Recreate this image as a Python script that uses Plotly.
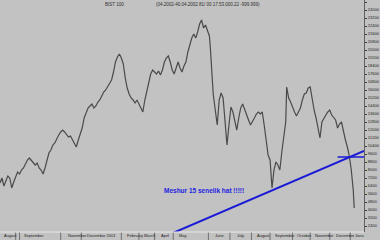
import plotly.graph_objects as go

# trading-day index and index level
days = [0,2,4,6,8,10,12,14,16,18,20,22,24,26,28,30,32,34,36,38,40,42,44,46,48,50,52,54,56,58,
        60,62,64,66,68,70,72,74,76,78,80,82,84,86,88,90,92,94,96,98,100,102,104,106,108,110,112,114,116,118,
        120,122,124,126,128,130,132,134,136,138,140,142,144,146,148,150,152,154,156,158,160,162,164,166,168,170,172,174,176,178,
        180,182,184,186,188,190,192,194,196,198,200,202,204,206,208,210,212,214,215,216,217,218,220,222,224,226,228,230,232,234,
        236,238,240,242,244,246,248,250,252,254,256,258,260,262,264,266,268,270,272,274,276,278,280,282,284,286,288,290,292,293,
        295,297,299,301,303,305,307,309,311,313,315,317,319,321,323,325,327,329,331,333,335,337,339,341,343,345,347,349,351,353,
        355,357,359,361,362]
level = [6700,7200,6400,7000,7400,7200,6200,6800,7400,7800,7600,8000,8200,8700,9000,9200,9000,8800,8500,8700,8200,8000,7600,8200,9000,9700,10000,10500,10700,11200,
         11500,11800,12000,11800,11600,11300,11400,11000,10700,10300,11000,11600,12200,13200,13800,14200,14400,14600,14200,14400,14800,15000,15400,15800,16000,16300,16600,17000,17800,18800,
         19300,19600,19200,18600,17200,16200,15600,15200,15000,14700,15000,14600,14200,13800,15000,15800,16600,17600,18000,17800,17600,17900,17500,18000,18800,19200,19400,18800,18000,17600,
         18200,18800,18200,17800,18400,18800,19800,20500,21200,21600,21200,21800,22600,23000,22200,22500,22000,21400,20200,19000,17000,15500,14000,12500,15000,15700,15200,13200,10500,12500,
         14300,13800,13000,12000,13200,14200,14600,14000,13500,13000,12500,12800,13200,13600,13800,13600,13800,12500,11000,9500,9000,6200,8000,8800,8500,8000,9800,11500,12800,16300,
         15200,14800,14200,13800,13400,13800,14200,15000,15600,15700,16200,16300,15000,14000,13200,12200,11200,12800,13200,13500,13800,14000,13500,13200,13000,12200,12600,12800,11800,11000,
         10300,9400,8000,6000,4200]

# trendline ("15 year line") and horizontal break line
trend_days = [160, 372]
trend_level = [1000, 9900]
break_days = [345, 372]
break_level = [9300, 9300]

# month labels on the time axis
month_labels = ["August", "September", "November", "December 2001", "February", "March", "April", "May",
                "June", "July", "August", "September", "October", "November", "December", "Janu"]
month_start = [2, 22, 67, 87, 128, 145, 163, 181, 218, 240, 261, 279, 301, 320, 341, 361]
separators = [16, 20, 62, 83, 124, 142, 158, 177, 213, 235, 257, 276, 299, 317, 337, 358]

FONT = "Liberation Sans, Arial, sans-serif"
BG = "#c2c2c2"

fig = go.Figure()
fig.add_trace(go.Scatter(x=days, y=level, mode="lines",
                         line=dict(color="#4a4a4a", width=1.2), hoverinfo="skip"))
fig.add_trace(go.Scatter(x=trend_days, y=trend_level, mode="lines",
                         line=dict(color="#1a1ad6", width=2), hoverinfo="skip"))
fig.add_trace(go.Scatter(x=break_days, y=break_level, mode="lines",
                         line=dict(color="#1a1ad6", width=1.5), hoverinfo="skip"))

shapes = []
for s in separators:
    shapes.append(dict(type="line", xref="x", yref="paper", x0=s, x1=s, y0=-8/232, y1=0,
                       line=dict(color="#707070", width=1)))
shapes.append(dict(type="line", xref="paper", yref="paper", x0=0, x1=1, y0=0, y1=0,
                   line=dict(color="#e8e8e8", width=1)))

annotations = []
for lab, x0 in zip(month_labels, month_start):
    annotations.append(dict(x=x0, y=-4/232, xref="x", yref="paper", text=lab, showarrow=False,
                            xanchor="left", yanchor="middle", font=dict(family=FONT, size=4, color="#202020")))
annotations.append(dict(x=208, y=6000, xref="x", yref="y", text="<b>Meshur 15 senelik hat !!!!!</b>",
                        showarrow=False, font=dict(family=FONT, size=6.5, color="#2222e0")))
annotations.append(dict(x=105/372, y=1-4/232, xref="paper", yref="paper", text="BIST 100",
                        showarrow=False, xanchor="left", yanchor="middle", font=dict(family=FONT, size=4.5, color="#303030")))
annotations.append(dict(x=157/372, y=1-4/232, xref="paper", yref="paper",
                        text="(04.2002-40.04.2002 81/ 00 17.53.000.22 -999.999)",
                        showarrow=False, xanchor="left", yanchor="middle", font=dict(family=FONT, size=4.5, color="#303030")))

fig.update_layout(
    width=380, height=240, margin=dict(l=0, r=8, t=0, b=8),
    plot_bgcolor=BG, paper_bgcolor=BG, showlegend=False,
    shapes=shapes, annotations=annotations,
    xaxis=dict(range=[0, 372], showgrid=False, zeroline=False, showticklabels=False, ticks=""),
    yaxis=dict(range=[1800, 25000], side="right", showgrid=False, zeroline=False,
               dtick=800, tick0=0, ticks="outside", ticklen=2, tickcolor="#404040",
               tickformat="d",
               showline=True, linecolor="#606060", linewidth=1,
               tickfont=dict(family=FONT, size=4, color="#202020")),
)
fig.write_html("out.html")
